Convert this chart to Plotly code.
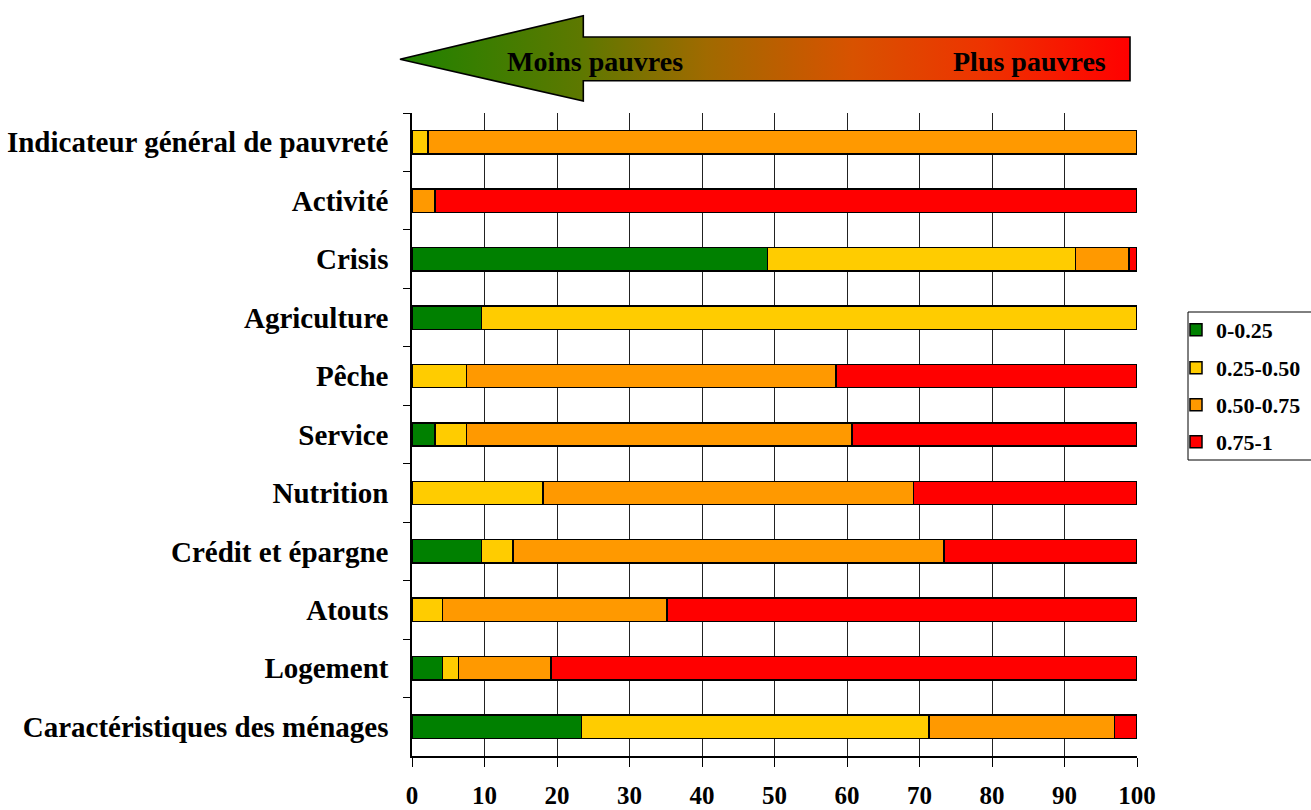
import base64
import plotly.graph_objects as go

# Poverty indicator shares (%) by class of score, one list per class
categories = [
    "Indicateur général de pauvreté",
    "Activité",
    "Crisis",
    "Agriculture",
    "Pêche",
    "Service",
    "Nutrition",
    "Crédit et épargne",
    "Atouts",
    "Logement",
    "Caractéristiques des ménages",
]
share_0_25 = [0, 0, 49.0, 9.6, 0, 3.2, 0, 9.6, 0, 4.2, 23.4]
share_25_50 = [2.2, 0, 42.5, 90.4, 7.5, 4.3, 18.1, 4.3, 4.2, 2.2, 47.9]
share_50_75 = [97.8, 3.2, 7.4, 0, 51.0, 53.2, 51.1, 59.5, 31.0, 12.8, 25.6]
share_75_100 = [0, 96.8, 1.1, 0, 41.5, 39.3, 30.8, 26.6, 64.8, 80.8, 3.1]

class_names = ["0-0.25", "0.25-0.50", "0.50-0.75", "0.75-1"]
class_colors = ["#008000", "#FFCC00", "#FF9900", "#FF0000"]
x_ticks = [0, 10, 20, 30, 40, 50, 60, 70, 80, 90, 100]

W, H = 1311, 810
L, R, T, B = 412, 174, 113, 54
PW, PH = W - L - R, H - T - B


def px(xp):
    return (xp - L) / PW


def py(yp):
    return (H - B - yp) / PH


FONT = "Liberation Serif"

fig = go.Figure()
series = [share_0_25, share_25_50, share_50_75, share_75_100]
for i, (name, color, vals) in enumerate(zip(class_names, class_colors, series)):
    fig.add_trace(
        go.Bar(
            y=categories,
            x=[v if v else None for v in vals],
            name=name,
            orientation="h",
            width=0.4,
            marker=dict(color=color, line=dict(color="black", width=1.5)),
            legend="legend" if i == 0 else f"legend{i + 1}",
        )
    )

# legend entries, one per class, stacked inside a common frame
legend_rows = [330, 368, 405, 442]
legend_font = dict(family=FONT, size=22, color="black", weight=700)
for i, yrow in enumerate(legend_rows):
    key = "legend" if i == 0 else f"legend{i + 1}"
    fig.update_layout(
        {
            key: dict(
                x=px(1176),
                xanchor="left",
                y=py(yrow),
                yanchor="middle",
                font=legend_font,
                bgcolor="rgba(0,0,0,0)",
                borderwidth=0,
                itemwidth=30,
            )
        }
    )

fig.add_shape(
    type="rect",
    xref="paper",
    yref="paper",
    x0=px(1188),
    x1=px(1316),
    y0=py(312),
    y1=py(460),
    line=dict(color="black", width=1),
    fillcolor="rgba(0,0,0,0)",
)

# gradient arrow "Moins pauvres" <- -> "Plus pauvres"
ox, oy = 399, 14
aw, ah = 733, 90
pts = [(400, 59.3), (583.3, 15.7), (583.3, 37), (1130, 37), (1130, 80.8),
       (583.3, 80.8), (583.3, 101)]
poly = " ".join(f"{x - ox:.1f},{y - oy:.1f}" for x, y in pts)
svg = f"""<svg xmlns='http://www.w3.org/2000/svg' width='{aw}' height='{ah}' viewBox='0 0 {aw} {ah}'>
<defs><linearGradient id='g' x1='0' y1='0' x2='1' y2='0'>
<stop offset='0' stop-color='#1E8200'/>
<stop offset='0.25' stop-color='#5E7800'/>
<stop offset='0.42' stop-color='#A06A00'/>
<stop offset='0.62' stop-color='#D85200'/>
<stop offset='0.80' stop-color='#EE3300'/>
<stop offset='1' stop-color='#FF0000'/>
</linearGradient></defs>
<polygon points='{poly}' fill='url(#g)' stroke='black' stroke-width='1.6'/>
</svg>"""
src = "data:image/svg+xml;base64," + base64.b64encode(svg.encode()).decode()
fig.add_layout_image(
    dict(
        source=src,
        xref="paper",
        yref="paper",
        x=px(ox),
        y=py(oy),
        sizex=aw / PW,
        sizey=ah / PH,
        sizing="stretch",
        xanchor="left",
        yanchor="top",
        layer="above",
    )
)

arrow_font = dict(family=FONT, size=28, color="black", weight=700)
fig.add_annotation(text="Moins pauvres", xref="paper", yref="paper",
                   x=px(505), y=py(61), xanchor="left", yanchor="middle",
                   showarrow=False, font=arrow_font)
fig.add_annotation(text="Plus pauvres", xref="paper", yref="paper",
                   x=px(1108), y=py(61), xanchor="right", yanchor="middle",
                   showarrow=False, font=arrow_font)

fig.update_layout(
    width=W,
    height=H,
    margin=dict(l=L, r=R, t=T, b=B, pad=0, autoexpand=False),
    barmode="stack",
    plot_bgcolor="white",
    paper_bgcolor="white",
    showlegend=True,
    font=dict(family=FONT, color="black", weight=700),
)
fig.update_xaxes(
    range=[0, 100],
    tickvals=x_ticks,
    ticktext=[str(v) for v in x_ticks],
    showgrid=True,
    gridcolor="#222222",
    gridwidth=1,
    showline=True,
    linecolor="black",
    linewidth=1.5,
    ticks="outside",
    ticklen=9,
    tickcolor="black",
    ticklabelstandoff=7,
    tickfont=dict(family=FONT, size=25, color="black", weight=700),
    zeroline=False,
    automargin=False,
    fixedrange=True,
)
fig.update_yaxes(
    categoryorder="array",
    categoryarray=categories,
    autorange="reversed",
    showgrid=False,
    showline=True,
    linecolor="black",
    linewidth=1.5,
    ticks="outside",
    tickson="boundaries",
    ticklen=7,
    tickcolor="black",
    ticklabelstandoff=16,
    tickfont=dict(family=FONT, size=29, color="black", weight=700),
    automargin=False,
    fixedrange=True,
)

fig.write_html("out.html", config={"displayModeBar": False})
